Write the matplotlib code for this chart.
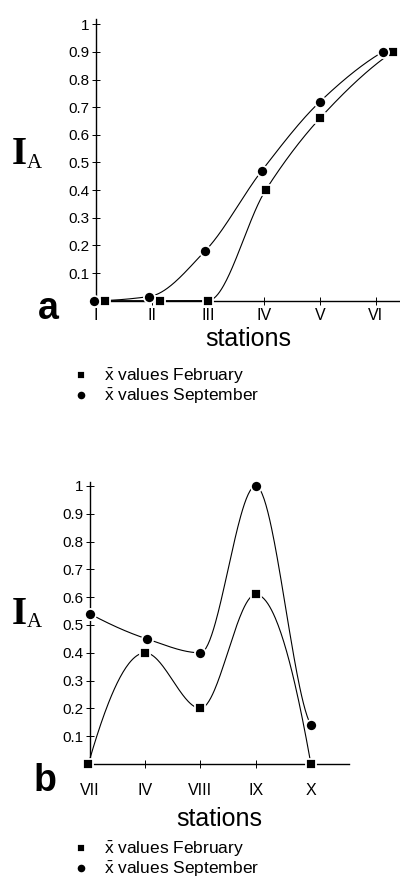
import numpy as np
import matplotlib
matplotlib.use('Agg')
import matplotlib.pyplot as plt

plt.rcParams['font.family'] = ['Liberation Sans', 'DejaVu Sans']
plt.rcParams['mathtext.fontset'] = 'custom'
plt.rcParams['mathtext.rm'] = 'Liberation Sans'

# ----- panel a: stations I..VI -----
a_ticks = [1, 2, 3, 4, 5, 6]
a_labels = ['I', 'II', 'III', 'IV', 'V', 'VI']
a_feb_x = [1.16, 2.14, 3.0, 4.03, 5.0, 6.3]
a_feb_y = [0.0, 0.0, 0.0, 0.40, 0.66, 0.90]
a_sep_x = [0.96, 1.95, 2.95, 3.96, 5.0, 6.12]
a_sep_y = [0.0, 0.015, 0.18, 0.47, 0.72, 0.90]

# ----- panel b: stations VII, IV, VIII, IX, X -----
b_ticks = [1, 2, 3, 4, 5]
b_labels = ['VII', 'IV', 'VIII', 'IX', 'X']
b_feb_x = [0.97, 2.0, 3.0, 4.0, 5.0]
b_feb_y = [0.0, 0.40, 0.20, 0.61, 0.0]
b_sep_x = [1.0, 2.03, 3.0, 4.0, 5.0]
b_sep_y = [0.54, 0.45, 0.40, 1.0, 0.14]

y_ticks = [0.1, 0.2, 0.3, 0.4, 0.5, 0.6, 0.7, 0.8, 0.9, 1.0]
y_labels = ['0.1', '0.2', '0.3', '0.4', '0.5', '0.6', '0.7', '0.8', '0.9', '1']

feb_label = r'$\bar{\mathrm{x}}$ values February'
sep_label = r'$\bar{\mathrm{x}}$ values September'


def pchip(x, y, last_slope=None, n=60):
    """Monotone cubic (Fritsch-Carlson) through the points, for the smooth lines."""
    x = np.asarray(x, float)
    y = np.asarray(y, float)
    h = np.diff(x)
    d = np.diff(y) / h
    m = np.zeros_like(y)
    for k in range(1, len(x) - 1):
        if d[k - 1] * d[k] > 0:
            w1 = 2 * h[k] + h[k - 1]
            w2 = h[k] + 2 * h[k - 1]
            m[k] = (w1 + w2) / (w1 / d[k - 1] + w2 / d[k])

    def end_slope(h0, h1, d0, d1):
        s = ((2 * h0 + h1) * d0 - h0 * d1) / (h0 + h1)
        if np.sign(s) != np.sign(d0):
            return 0.0
        if np.sign(d0) != np.sign(d1) and abs(s) > abs(3 * d0):
            return 3 * d0
        return s

    m[0] = end_slope(h[0], h[1], d[0], d[1])
    m[-1] = end_slope(h[-1], h[-2], d[-1], d[-2])
    if last_slope is not None:
        m[-1] = last_slope

    xs, ys = [], []
    for k in range(len(x) - 1):
        t = np.linspace(0, 1, n)
        h00 = 2 * t**3 - 3 * t**2 + 1
        h10 = t**3 - 2 * t**2 + t
        h01 = -2 * t**3 + 3 * t**2
        h11 = t**3 - t**2
        xs.append(x[k] + t * h[k])
        ys.append(h00 * y[k] + h10 * h[k] * m[k] + h01 * y[k + 1] + h11 * h[k] * m[k + 1])
    return np.concatenate(xs), np.concatenate(ys)


def draw_panel(ax, ticks, labels, feb_x, feb_y, sep_x, sep_y, xlim, ylim, label_pad,
               sep_last_slope=None):
    for xx, yy, ls in [(feb_x, feb_y, None), (sep_x, sep_y, sep_last_slope)]:
        cx, cy = pchip(xx, yy, last_slope=ls)
        ax.plot(cx, cy, color='black', lw=0.8, clip_on=False)
    feb = ax.plot(feb_x, feb_y, ls='none', marker='s', ms=7.5, mfc='black',
                  mec='white', mew=1.3, clip_on=False, zorder=5, label=feb_label)[0]
    sep = ax.plot(sep_x, sep_y, ls='none', marker='o', ms=8, mfc='black',
                  mec='white', mew=1.3, clip_on=False, zorder=5, label=sep_label)[0]

    ax.set_xlim(*xlim)
    ax.set_ylim(*ylim)
    ax.set_xticks(ticks)
    ax.set_xticklabels(labels, fontsize=11.5)
    ax.set_yticks(y_ticks)
    ax.set_yticklabels(y_labels, fontsize=11)
    ax.tick_params(axis='both', direction='inout', length=6, width=0.7, colors='black')
    ax.tick_params(axis='x', pad=label_pad)
    ax.tick_params(axis='y', pad=2)
    for s in ['top', 'right']:
        ax.spines[s].set_visible(False)
    for s in ['left', 'bottom']:
        ax.spines[s].set_linewidth(1.0)
    ax.patch.set_alpha(0)
    return feb, sep


fig = plt.figure(figsize=(4.0, 8.81), dpi=100)

ax_a = fig.add_axes([0.24, 0.6587, 0.76, 0.320])
feb_a, sep_a = draw_panel(ax_a, a_ticks, a_labels, a_feb_x, a_feb_y, a_sep_x, a_sep_y,
                          (1, 6.43), (0, 1.02), 2)

ax_b = fig.add_axes([0.225, 0.1328, 0.6475, 0.3203])
feb_b, sep_b = draw_panel(ax_b, b_ticks, b_labels, b_feb_x, b_feb_y, b_sep_x, b_sep_y,
                          (1, 5.69), (0, 1.015), 11, sep_last_slope=-0.35)

# axis titles
ax_a.set_xlabel('stations', fontsize=18, labelpad=3)
ax_b.set_xlabel('stations', fontsize=18, labelpad=6)

for ax, yc in [(ax_a, 1 - 155 / 881), (ax_b, 1 - 614 / 881)]:
    fig.text(0.030, yc, 'I', family='Liberation Serif', fontweight='bold',
             fontsize=28, ha='left', va='center')
    fig.text(0.068, yc - 0.010, 'A', family='Liberation Serif',
             fontsize=15, ha='left', va='center')

fig.text(0.12, 1 - 309 / 881, 'a', fontsize=27, fontweight='bold', ha='center', va='center')
fig.text(0.112, 1 - 781 / 881, 'b', fontsize=27, fontweight='bold', ha='center', va='center')

legend_kw = dict(loc='upper left', frameon=False, fontsize=12.5, handlelength=0.78,
                 handletextpad=0.95, labelspacing=0.05, borderpad=0, borderaxespad=0,
                 markerscale=0.85)
fig.legend(handles=[feb_a, sep_a], bbox_to_anchor=(0.185, 1 - 367 / 881), **legend_kw)
fig.legend(handles=[feb_b, sep_b], bbox_to_anchor=(0.185, 1 - 840 / 881), **legend_kw)

fig.savefig('out.png', dpi=100)
